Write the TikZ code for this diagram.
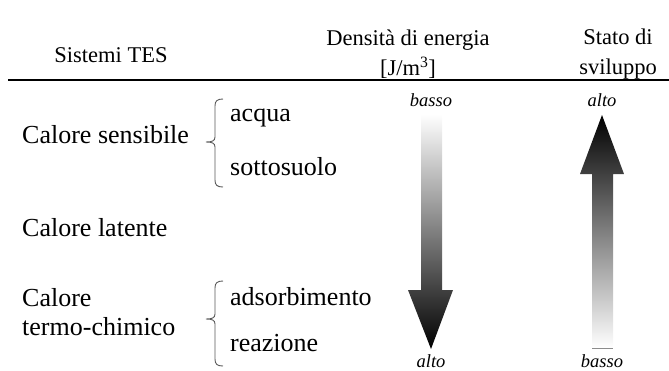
\documentclass[tikz,border=0pt]{standalone}
\usepackage{fontspec}
\setmainfont{Liberation Serif}
\begin{document}
\begin{tikzpicture}[x=1pt,y=-1pt,
  hdr/.style={inner sep=0pt,font=\fontsize{22.5}{30}\selectfont,align=center},
  body/.style={inner sep=0pt,font=\fontsize{26}{29}\selectfont,anchor=west,align=left},
  lab/.style={inner sep=0pt,font=\fontsize{18.5}{20}\selectfont\itshape},
  bracestyle/.style={draw=black!65,line width=0.9pt},
]
\useasboundingbox (0,0) rectangle (669,370);
% header
\node[hdr] (sist) at (111,55) {Sistemi TES};
\node[hdr] (dens) at (408,54) {Densità di energia\\{[J/m\textsuperscript{3}]}};
\node[hdr] (stato) at (618,54) {Stato di\\sviluppo};
\draw[line width=2.5pt] (8,80) -- (669,80);
% rows
\node[body] (sens) at (22,135) {Calore sensibile};
\node[body] (acqua) at (230,118) {acqua};
\node[body] (sotto) at (230,167) {sottosuolo};
\node[body] (lat) at (22,228) {Calore latente};
\node[body] (termo) at (22,312) {Calore\\termo-chimico};
\node[body] (ads) at (230,297) {adsorbimento};
\node[body] (reaz) at (230,343) {reazione};
% braces
\draw[bracestyle] (223,99) .. controls (217,99) and (215,101) .. (215,106) -- (215,137)
  .. controls (215,141) and (212,142) .. (206,142)
  .. controls (212,142) and (215,143) .. (215,147) -- (215,180)
  .. controls (215,185) and (217,187) .. (223,187);
\draw[bracestyle] (223,281) .. controls (217,281) and (215,283) .. (215,288) -- (215,314)
  .. controls (215,318) and (212,319) .. (206,319)
  .. controls (212,319) and (215,320) .. (215,324) -- (215,359)
  .. controls (215,364) and (217,366) .. (223,366);
% left arrow (energy density)
\node[lab] (lb) at (431,100) {basso};
\node[lab] (la) at (431,361) {alto};
\shade[top color=white,middle color=black!55,bottom color=black]
  (421,114) -- (442,114) -- (442,290) -- (453,290) -- (431,349) -- (408,290) -- (421,290) -- cycle;
% right arrow (development)
\node[lab] (ra) at (602,100) {alto};
\node[lab] (rb) at (602,361) {basso};
\shade[top color=black,middle color=black!65,bottom color=white]
  (602,115) -- (624,174) -- (613,174) -- (613,348) -- (592,348) -- (592,174) -- (580,174) -- cycle;
\draw[black!45,line width=0.8pt] (592,348) -- (613,348);
\end{tikzpicture}
\end{document}
